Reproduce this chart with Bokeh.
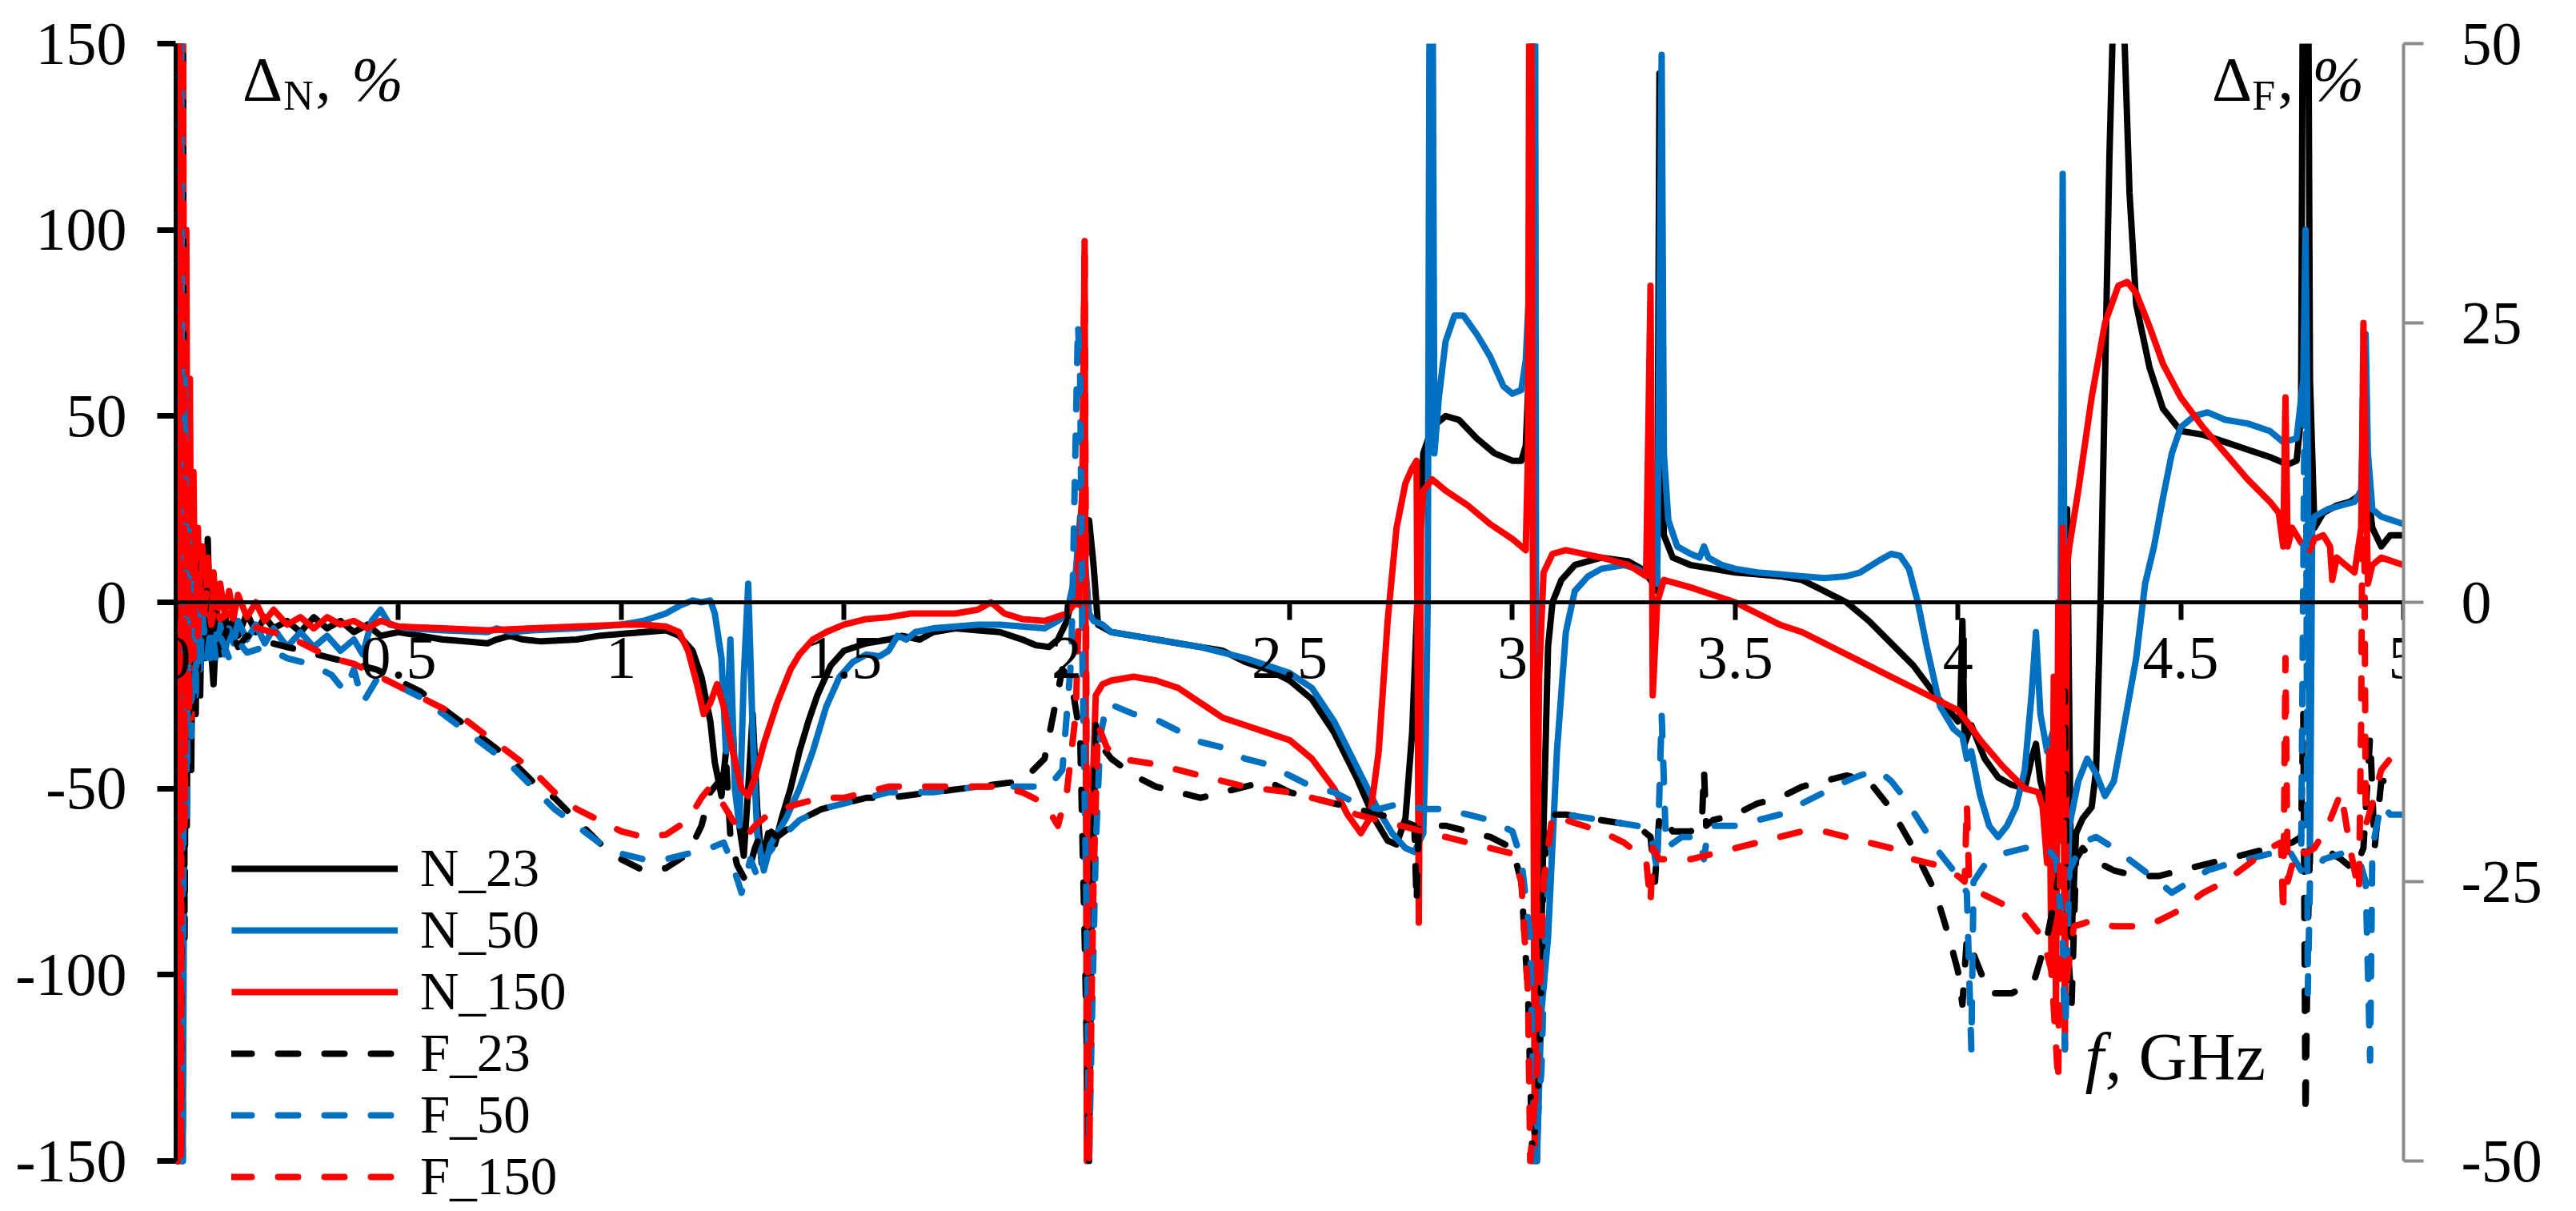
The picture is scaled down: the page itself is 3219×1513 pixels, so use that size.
from bokeh.plotting import figure
from bokeh.models import (Range1d, LinearAxis, FixedTicker, NumeralTickFormatter,
                          Legend, LegendItem, Label)
from bokeh.embed import file_html
from bokeh.resources import INLINE

# ---------------- data ----------------
# N series: left axis (%), F series: right axis (%)
n23_x = [0.000, 0.005, 0.010, 0.015, 0.020, 0.025, 0.030, 0.035, 0.040, 0.045, 0.050, 0.055, 0.060, 0.066, 0.072, 0.078, 0.085, 0.092, 0.10, 0.11, 0.12, 0.13, 0.14, 0.16, 0.18, 0.20, 0.22, 0.25, 0.28, 0.31, 0.34, 0.37, 0.40, 0.43, 0.46, 0.50, 0.55, 0.60, 0.65, 0.70, 0.72, 0.75, 0.78, 0.82, 0.90, 0.95, 1.00, 1.05, 1.10, 1.13, 1.16, 1.18, 1.20, 1.21, 1.225, 1.235, 1.245, 1.255, 1.265, 1.275, 1.285, 1.295, 1.305, 1.315, 1.33, 1.345, 1.36, 1.38, 1.40, 1.42, 1.44, 1.47, 1.50, 1.55, 1.60, 1.63, 1.67, 1.70, 1.75, 1.80, 1.85, 1.90, 1.93, 1.96, 1.98, 2.00, 2.02, 2.04, 2.05, 2.06, 2.07, 2.10, 2.15, 2.20, 2.25, 2.30, 2.35, 2.40, 2.45, 2.50, 2.55, 2.60, 2.65, 2.69, 2.72, 2.74, 2.76, 2.775, 2.79, 2.80, 2.82, 2.85, 2.88, 2.92, 2.96, 3.00, 3.02, 3.03, 3.04, 3.045, 3.055, 3.07, 3.08, 3.09, 3.11, 3.14, 3.20, 3.26, 3.29, 3.31, 3.325, 3.33, 3.335, 3.34, 3.36, 3.40, 3.45, 3.50, 3.55, 3.60, 3.65, 3.70, 3.75, 3.80, 3.85, 3.90, 3.95, 3.98, 4.00, 4.005, 4.01, 4.015, 4.03, 4.06, 4.09, 4.12, 4.15, 4.165, 4.175, 4.185, 4.20, 4.215, 4.235, 4.245, 4.255, 4.265, 4.28, 4.30, 4.31, 4.32, 4.33, 4.34, 4.35, 4.37, 4.385, 4.40, 4.43, 4.46, 4.50, 4.55, 4.60, 4.65, 4.70, 4.74, 4.76, 4.77, 4.775, 4.785, 4.79, 4.80, 4.82, 4.85, 4.88, 4.905, 4.915, 4.93, 4.95, 4.97, 5.00]
n23_y = [300, -150, 250, -150, 80, -60, 40, -45, 25, -30, 12, -25, 8, -15, 17, -10, -22, -5, -14, -3, -10, -4, -9, -3, -8, -4, -7, -5, -8, -4, -7, -5, -8, -6, -9, -8, -9, -10, -10.5, -11, -10, -9, -10, -10.5, -10, -9, -8.5, -8, -7.5, -9, -13, -20, -32, -43, -52, -40, -22, -45, -60, -68, -50, -30, -55, -70, -62, -65, -58, -50, -40, -32, -25, -17, -13, -11, -10, -9, -10, -8, -7, -7.5, -8, -10, -11.5, -12, -10, -5, 5, 18, 22, 10, -6, -8, -9, -10, -11, -12, -13, -16, -18, -21, -26, -35, -47, -58, -64, -65, -58, -35, 10, 40, 47, 50, 49, 44, 40, 38, 38, 42, 70, 200, -150, -60, -12, 0, 6, 10, 12, 11, 9, 6, 3, 142, 40, 18, 12, 10, 9, 8, 7.5, 7, 6, 3, 0, -5, -11, -17, -25, -29, -32, -30, -5, -38, -33, -42, -47, -49, -50, -42, -38, -48, -55, -58, -20, 25, -90, -62, -58, -55, -45, 0, 60, 120, 165, 165, 110, 80, 63, 52, 46, 45, 43, 41, 39, 37, 38, 50, 200, 200, 60, 20, 24, 26, 27, 29, 35, 20, 15, 18, 18]

n50_x = [0.000, 0.004, 0.008, 0.012, 0.016, 0.020, 0.024, 0.028, 0.032, 0.036, 0.040, 0.045, 0.050, 0.055, 0.060, 0.066, 0.072, 0.078, 0.085, 0.092, 0.10, 0.11, 0.12, 0.13, 0.14, 0.16, 0.18, 0.20, 0.22, 0.25, 0.28, 0.31, 0.34, 0.37, 0.40, 0.42, 0.44, 0.46, 0.48, 0.52, 0.60, 0.70, 0.72, 0.75, 0.80, 0.90, 1.00, 1.05, 1.10, 1.13, 1.16, 1.18, 1.20, 1.21, 1.225, 1.235, 1.245, 1.255, 1.265, 1.275, 1.285, 1.295, 1.305, 1.32, 1.335, 1.35, 1.37, 1.40, 1.43, 1.46, 1.49, 1.52, 1.55, 1.58, 1.60, 1.62, 1.64, 1.66, 1.70, 1.75, 1.80, 1.85, 1.90, 1.95, 1.98, 2.00, 2.02, 2.03, 2.04, 2.05, 2.06, 2.08, 2.10, 2.15, 2.20, 2.25, 2.30, 2.35, 2.40, 2.45, 2.50, 2.55, 2.60, 2.65, 2.70, 2.73, 2.76, 2.78, 2.80, 2.805, 2.81, 2.815, 2.82, 2.825, 2.835, 2.85, 2.87, 2.89, 2.92, 2.95, 2.98, 3.00, 3.02, 3.03, 3.04, 3.05, 3.055, 3.065, 3.08, 3.10, 3.12, 3.14, 3.17, 3.20, 3.25, 3.28, 3.31, 3.325, 3.335, 3.34, 3.35, 3.37, 3.40, 3.42, 3.43, 3.44, 3.47, 3.50, 3.55, 3.60, 3.65, 3.70, 3.75, 3.78, 3.82, 3.85, 3.87, 3.89, 3.91, 3.93, 3.96, 3.99, 4.01, 4.02, 4.03, 4.05, 4.07, 4.09, 4.11, 4.13, 4.15, 4.165, 4.175, 4.185, 4.20, 4.22, 4.23, 4.235, 4.24, 4.245, 4.25, 4.27, 4.29, 4.31, 4.33, 4.35, 4.37, 4.40, 4.42, 4.44, 4.46, 4.48, 4.50, 4.53, 4.56, 4.60, 4.65, 4.70, 4.73, 4.76, 4.775, 4.78, 4.785, 4.79, 4.795, 4.80, 4.83, 4.86, 4.89, 4.905, 4.915, 4.92, 4.93, 4.95, 5.00]
n50_y = [-150, 250, -150, 200, -150, -40, 40, -38, 25, -30, 10, -25, 5, -18, 0, -14, -2, -15, -4, -12, -6, -14, -7, -11, -5, -10, -6, -11, -7, -12, -8, -12, -9, -13, -10, -14, -5, -2, -6, -7, -7.5, -8, -7, -8, -7.5, -7, -6, -5, -3, -1, 0.5, 0, 0.5, -3, -15, -40, -10, -50, -60, -20, 5, -35, -62, -72, -65, -62, -58, -50, -40, -28, -20, -16, -14, -14.5, -13, -9, -10, -8, -7, -6.5, -6, -6, -6.5, -7, -5, -3, 8, 23, 12, -3, -5, -6, -8, -9, -10, -11, -12, -13.5, -15, -17, -19, -23, -32, -44, -56, -62, -66, -67, -62, -40, 0, 200, 200, 40, 55, 70, 77, 77, 72, 66, 58, 56, 57, 65, 90, 250, -150, -110, -90, -40, -8, 3, 7, 9, 10, 9, 7, 5, 147, 40, 22, 15, 13, 12, 15, 12, 10, 9, 8, 7.5, 7, 6.5, 7, 8, 11, 13, 12.5, 9, 0, -12, -28, -34, -36, -42, -40, -52, -60, -63, -60, -55, -45, -25, -8, -30, -40, -32, -10, 115, -30, -80, -60, -48, -42, -46, -52, -48, -35, -15, 5, 15, 28, 40, 47, 50, 51, 49, 48, 46, 43, 44, 60, 100, 40, -70, 20, 23, 25, 26, 27, 30, 72, 40, 25, 23, 21]

n150_x = [0.000, 0.004, 0.008, 0.012, 0.016, 0.020, 0.024, 0.028, 0.032, 0.036, 0.040, 0.045, 0.050, 0.055, 0.060, 0.066, 0.072, 0.078, 0.085, 0.092, 0.10, 0.11, 0.12, 0.13, 0.14, 0.16, 0.18, 0.20, 0.22, 0.25, 0.28, 0.31, 0.34, 0.37, 0.40, 0.43, 0.46, 0.50, 0.60, 0.70, 0.80, 0.90, 1.00, 1.05, 1.10, 1.13, 1.15, 1.17, 1.185, 1.20, 1.215, 1.23, 1.25, 1.27, 1.285, 1.30, 1.32, 1.35, 1.38, 1.40, 1.43, 1.46, 1.50, 1.55, 1.60, 1.65, 1.70, 1.75, 1.80, 1.83, 1.86, 1.90, 1.95, 2.00, 2.02, 2.035, 2.04, 2.045, 2.055, 2.065, 2.08, 2.10, 2.15, 2.20, 2.25, 2.30, 2.35, 2.40, 2.45, 2.50, 2.55, 2.60, 2.63, 2.66, 2.68, 2.70, 2.72, 2.74, 2.76, 2.775, 2.785, 2.79, 2.795, 2.80, 2.82, 2.85, 2.90, 2.95, 3.00, 3.03, 3.035, 3.04, 3.05, 3.06, 3.07, 3.09, 3.12, 3.20, 3.26, 3.30, 3.31, 3.315, 3.325, 3.34, 3.40, 3.45, 3.50, 3.55, 3.60, 3.65, 3.70, 3.75, 3.80, 3.85, 3.90, 3.95, 4.00, 4.02, 4.05, 4.10, 4.15, 4.18, 4.19, 4.20, 4.205, 4.21, 4.215, 4.22, 4.225, 4.23, 4.235, 4.24, 4.245, 4.25, 4.27, 4.30, 4.33, 4.36, 4.38, 4.40, 4.43, 4.46, 4.50, 4.55, 4.60, 4.65, 4.70, 4.72, 4.73, 4.735, 4.74, 4.75, 4.77, 4.79, 4.80, 4.82, 4.835, 4.84, 4.85, 4.87, 4.89, 4.905, 4.91, 4.92, 4.93, 4.95, 5.00]
n150_y = [300, -150, 300, -150, 200, -60, 100, -40, 60, -31, 35, -20, 20, -10, 15, -5, 12, -3, 8, -4, 5, -3, 3, -4, 2, -4, 0, -5, -2, -6, -4, -7, -4, -6, -5, -7, -5, -6.5, -7, -7.5, -7, -6.5, -6, -6, -6.5, -8, -13, -22, -30, -27, -22, -28, -40, -50, -52, -47, -38, -27, -18, -14, -10, -8, -6, -4.5, -4, -3, -3, -3, -2, 0, -3, -4.5, -5, -3, 0, 30, 97, -150, -60, -25, -22, -21, -20, -21, -23, -27, -31, -33, -35, -37, -42, -50, -57, -62, -58, -40, -5, 20, 32, 36, 38, -86, 20, 30, 33, 30, 26, 21, 17, 14, 40, 250, -150, -20, 8, 13, 14, 12, 10, 7, 85, -25, 0, 6, 4, 2, 0, -3, -6, -8, -11, -14, -17, -20, -23, -26, -29, -32, -37, -44, -50, -51, -55, -70, -40, -100, -20, -110, 0, -60, 20, -120, 10, 15, 30, 55, 75, 85, 86, 83, 74, 64, 55, 47, 40, 33, 27, 24, 15, 55, 15, 20, 16, 14, 17, 18, 15, 6, 12, 10, 8, 20, 73, 5, 10, 12, 10]

f23_x = [0.000, 0.004, 0.008, 0.012, 0.016, 0.020, 0.025, 0.030, 0.035, 0.040, 0.045, 0.050, 0.055, 0.060, 0.07, 0.08, 0.09, 0.10, 0.12, 0.14, 0.16, 0.20, 0.25, 0.30, 0.35, 0.40, 0.45, 0.50, 0.55, 0.60, 0.65, 0.70, 0.75, 0.80, 0.85, 0.90, 0.95, 1.00, 1.05, 1.10, 1.15, 1.18, 1.20, 1.22, 1.235, 1.245, 1.26, 1.28, 1.30, 1.32, 1.35, 1.40, 1.45, 1.50, 1.55, 1.60, 1.70, 1.80, 1.90, 1.95, 1.97, 1.99, 2.01, 2.03, 2.04, 2.05, 2.055, 2.065, 2.08, 2.10, 2.15, 2.20, 2.25, 2.30, 2.35, 2.40, 2.45, 2.50, 2.55, 2.60, 2.65, 2.70, 2.75, 2.78, 2.785, 2.79, 2.85, 2.90, 2.95, 3.00, 3.02, 3.035, 3.045, 3.06, 3.07, 3.08, 3.12, 3.20, 3.28, 3.31, 3.32, 3.33, 3.36, 3.40, 3.425, 3.43, 3.435, 3.45, 3.50, 3.55, 3.60, 3.65, 3.70, 3.75, 3.80, 3.85, 3.90, 3.95, 3.98, 4.00, 4.01, 4.02, 4.04, 4.07, 4.12, 4.17, 4.20, 4.22, 4.235, 4.24, 4.245, 4.255, 4.265, 4.28, 4.30, 4.35, 4.40, 4.45, 4.50, 4.55, 4.60, 4.65, 4.70, 4.75, 4.77, 4.775, 4.78, 4.785, 4.79, 4.82, 4.86, 4.89, 4.91, 4.925, 4.935, 4.95, 4.97, 5.00]
f23_y = [80, -50, 80, -50, 60, -30, 10, -15, 6, -10, 4, -6, 2, -5, 1, -4, -1, -4, -2, -4, -3, -3.5, -4, -4.5, -5, -5.5, -6, -7, -8, -9.5, -11, -12.5, -14, -16, -17.5, -19.5, -21.5, -23, -24, -23.8, -22.5, -20, -17, -16, -14, -21, -23.5, -25, -22, -20, -21, -19.5, -18.5, -18, -17.5, -17.5, -17, -16.5, -16, -14, -10, -6, -7, -12, -30, -50, -30, -11, -13, -14, -15.5, -16.5, -17, -17.5, -17, -16.5, -16, -17, -17.5, -18, -18.5, -19, -19.5, -20, -27, -20, -20, -20.5, -21, -22, -25, -35, -50, -42, -25, -19, -19, -19.5, -20, -21, -25, -19, -20.5, -20.5, -20, -15, -20, -19.5, -19, -18, -17.5, -16.5, -16, -15.5, -16, -18.5, -22, -26, -30, -33, -36, -30, -32, -35, -35, -34, -30, -26, -22, -8, -30, -36, -23, -22, -23, -24, -24.5, -24.5, -24, -23.5, -23, -22.5, -22, -21.5, -21, -10, -46, -30, -22, -22, -23, -24, -22, -12, -22, -16, -16, -17]

f50_x = [0.000, 0.004, 0.008, 0.012, 0.016, 0.020, 0.025, 0.030, 0.035, 0.040, 0.045, 0.050, 0.055, 0.060, 0.07, 0.08, 0.09, 0.10, 0.12, 0.14, 0.16, 0.20, 0.25, 0.30, 0.35, 0.38, 0.40, 0.42, 0.45, 0.50, 0.55, 0.60, 0.65, 0.70, 0.75, 0.80, 0.85, 0.90, 0.95, 1.00, 1.05, 1.10, 1.15, 1.20, 1.23, 1.25, 1.27, 1.29, 1.31, 1.33, 1.36, 1.40, 1.45, 1.50, 1.55, 1.60, 1.65, 1.70, 1.80, 1.90, 1.96, 1.99, 2.01, 2.02, 2.025, 2.03, 2.035, 2.045, 2.05, 2.055, 2.065, 2.075, 2.09, 2.12, 2.15, 2.20, 2.25, 2.30, 2.35, 2.40, 2.45, 2.50, 2.55, 2.60, 2.65, 2.70, 2.75, 2.80, 2.85, 2.90, 2.95, 3.00, 3.02, 3.04, 3.05, 3.065, 3.075, 3.09, 3.12, 3.20, 3.28, 3.31, 3.325, 3.335, 3.345, 3.38, 3.42, 3.43, 3.44, 3.50, 3.55, 3.60, 3.65, 3.70, 3.75, 3.78, 3.82, 3.85, 3.88, 3.92, 3.96, 4.00, 4.02, 4.03, 4.035, 4.06, 4.10, 4.15, 4.20, 4.22, 4.235, 4.24, 4.25, 4.28, 4.31, 4.35, 4.40, 4.45, 4.48, 4.52, 4.56, 4.60, 4.65, 4.70, 4.74, 4.77, 4.78, 4.785, 4.79, 4.82, 4.86, 4.90, 4.915, 4.925, 4.93, 4.95, 4.97, 5.00]
f50_y = [-50, 80, -50, 80, -50, 20, -20, 8, -12, 3, -8, 0, -6, -1, -5, -2, -5, -3, -5, -3.5, -4.5, -4, -5, -5.5, -6.5, -8, -6, -9, -7, -7.5, -8.5, -10, -11.5, -13, -14.5, -16.5, -18.5, -20, -21.5, -22.5, -23, -23, -22.5, -22, -21.5, -23.5, -26, -23, -25, -22.5, -21, -19.5, -18.5, -18, -17.5, -17, -17, -17, -16.5, -16.5, -16.5, -15, -5, 15, 25, 20, -5, -30, -50, -40, -22, -12, -9, -9.5, -10, -10.5, -11.5, -12.5, -13, -14, -14.5, -15.5, -16.5, -17, -18, -18.5, -18, -18.5, -18.5, -19, -19.5, -20.5, -23, -30, -50, -42, -28, -20, -19, -19.5, -20, -20.5, -24, -10, -22, -21, -21, -23, -20, -20, -19.5, -19, -18, -17, -16, -15.5, -15, -16, -17.5, -20, -22.5, -24.5, -26, -40, -25, -23.5, -22.5, -22, -22, -23, -30, -40, -24, -21.5, -21, -22, -23.5, -25, -26, -25, -24, -23.5, -23, -22.5, -22, -24, 30, -35, -25, -23, -22.5, -23, -25, -41, -22, -18, -19, -19]

f150_x = [0.000, 0.004, 0.008, 0.012, 0.016, 0.020, 0.025, 0.030, 0.035, 0.040, 0.045, 0.050, 0.055, 0.060, 0.07, 0.08, 0.09, 0.10, 0.12, 0.14, 0.16, 0.20, 0.25, 0.30, 0.35, 0.40, 0.45, 0.50, 0.55, 0.60, 0.65, 0.70, 0.75, 0.80, 0.85, 0.90, 0.95, 1.00, 1.05, 1.10, 1.15, 1.18, 1.20, 1.22, 1.25, 1.28, 1.30, 1.33, 1.36, 1.40, 1.45, 1.50, 1.55, 1.60, 1.65, 1.70, 1.75, 1.80, 1.85, 1.90, 1.95, 1.98, 2.00, 2.02, 2.035, 2.04, 2.045, 2.05, 2.06, 2.07, 2.09, 2.12, 2.20, 2.30, 2.40, 2.50, 2.55, 2.60, 2.65, 2.70, 2.75, 2.80, 2.85, 2.90, 2.95, 3.00, 3.02, 3.035, 3.04, 3.055, 3.07, 3.09, 3.12, 3.20, 3.25, 3.30, 3.31, 3.315, 3.33, 3.40, 3.45, 3.50, 3.55, 3.60, 3.65, 3.70, 3.75, 3.80, 3.85, 3.90, 3.95, 4.00, 4.015, 4.02, 4.025, 4.05, 4.10, 4.15, 4.19, 4.21, 4.225, 4.23, 4.235, 4.24, 4.26, 4.30, 4.35, 4.40, 4.45, 4.50, 4.55, 4.60, 4.65, 4.70, 4.725, 4.73, 4.735, 4.74, 4.76, 4.78, 4.80, 4.83, 4.86, 4.88, 4.90, 4.905, 4.91, 4.915, 4.93, 4.95, 4.97, 5.00]
f150_y = [80, -50, 80, -50, 70, -20, 15, -10, 10, -5, 6, -3, 3, -2, 1, -2, 0, -1.5, -1, -2, -2, -2.5, -3, -4, -5, -5.5, -6.5, -7.5, -8.5, -9.5, -10.5, -12, -13.5, -15, -17, -18.5, -19.5, -20.5, -21, -20.8, -19.5, -17.5, -16.5, -17.5, -19.5, -21, -20, -19, -18.5, -18, -17.5, -17.5, -17, -16.5, -16.5, -16.5, -16.5, -16.5, -16.5, -17, -18, -20, -17, -10, 10, 32, -20, -50, -25, -11, -13, -14, -14.5, -15.5, -16.5, -17, -17.5, -18, -19, -19.5, -20, -20.5, -21, -21.5, -22, -22.5, -25, -35, -50, -42, -25, -19, -19.5, -20.5, -21.5, -23, -27, -22, -23, -23, -22.5, -22, -21.5, -21, -20.5, -20.5, -21, -21.5, -22, -23, -23.5, -24.5, -25, -18, -25, -26, -27, -28, -30, -33, -43, -20, -8, -35, -29, -28.5, -29, -29, -28.5, -27.5, -26, -25, -23.5, -22, -21.5, -28, -5, -25, -22, -22.5, -22, -20, -17, -22, -26, -10, 25, -20, -18, -15, -14, -14]

x_ticks = [0, 0.5, 1, 1.5, 2, 2.5, 3, 3.5, 4, 4.5, 5]
left_ticks = [-150, -100, -50, 0, 50, 100, 150]
right_ticks = [-50, -25, 0, 25, 50]

series_labels = ["N_23", "N_50", "N_150", "F_23", "F_50", "F_150"]

# ---------------- figure ----------------
FONT = "Liberation Serif"
W, H = 3203, 1505
TOP = 54
PX_PER_UNIT = 1396 / 300.0          # plot scale of the left axis
FRAME_H = H - TOP
LEFT_MIN = 150 - FRAME_H / PX_PER_UNIT      # frame extends a bit below -150 (room for legend)
RIGHT_MIN = LEFT_MIN / 3.0

p = figure(width=W, height=H, output_backend="svg", toolbar_location=None,
           x_range=Range1d(0, 5), y_range=Range1d(LEFT_MIN, 150),
           min_border_left=219, min_border_right=200,
           min_border_top=TOP, min_border_bottom=0)
p.extra_y_ranges = {"right": Range1d(RIGHT_MIN, 50)}
p.outline_line_color = None
p.xgrid.visible = False
p.ygrid.visible = False
p.background_fill_color = "white"

BLACK = "#000000"
BLUE = "#0070C0"
RED = "#FF0000"
SW = 8
DW = 8
DASH = "25 33"

r1 = p.line(n23_x, n23_y, line_color=BLACK, line_width=SW, line_join="round")
r2 = p.line(n50_x, n50_y, line_color=BLUE, line_width=SW, line_join="round")
r3 = p.line(n150_x, n150_y, line_color=RED, line_width=SW, line_join="round")
r4 = p.line(f23_x, f23_y, y_range_name="right", line_color=BLACK, line_width=DW,
            line_dash=DASH, line_cap="round", line_join="round")
r5 = p.line(f50_x, f50_y, y_range_name="right", line_color=BLUE, line_width=DW,
            line_dash=DASH, line_cap="round", line_join="round")
r6 = p.line(f150_x, f150_y, y_range_name="right", line_color=RED, line_width=DW,
            line_dash=DASH, line_cap="round", line_join="round")

# x axis crossing at zero
xa = p.xaxis[0]
xa.fixed_location = 0
xa.ticker = FixedTicker(ticks=x_ticks)
xa.formatter = NumeralTickFormatter(format="0.[0]")
xa.axis_line_width = 5
xa.axis_line_color = BLACK
xa.major_tick_line_width = 6
xa.major_tick_in = 0
xa.major_tick_out = 22
xa.minor_tick_line_color = None
xa.major_label_standoff = 22
xa.major_label_text_font = FONT
xa.major_label_text_font_size = "76px"
xa.major_label_text_color = BLACK

ya = p.yaxis[0]
ya.ticker = FixedTicker(ticks=left_ticks)
ya.formatter = NumeralTickFormatter(format="0")
ya.bounds = (-150, 150)
ya.axis_line_width = 5
ya.axis_line_color = BLACK
ya.major_tick_line_width = 7
ya.major_tick_in = 0
ya.major_tick_out = 23
ya.minor_tick_line_color = None
ya.major_label_standoff = 38
ya.major_label_text_font = FONT
ya.major_label_text_font_size = "76px"
ya.major_label_text_color = BLACK

ra = LinearAxis(y_range_name="right", ticker=FixedTicker(ticks=right_ticks),
                formatter=NumeralTickFormatter(format="0"), bounds=(-50, 50))
ra.axis_line_width = 4
ra.axis_line_color = "#8C8C8C"
ra.major_tick_line_color = "#8C8C8C"
ra.major_tick_line_width = 4
ra.major_tick_in = 0
ra.major_tick_out = 25
ra.minor_tick_line_color = None
ra.major_label_standoff = 47
ra.major_label_text_font = FONT
ra.major_label_text_font_size = "76px"
ra.major_label_text_color = BLACK
p.add_layout(ra, "right")

# axis titles drawn as text in data coordinates
def lab(x, y, t, size="78px", style="normal"):
    p.add_layout(Label(x=x, y=y, text=t, text_font=FONT, text_font_size=size,
                       text_font_style=style, text_color=BLACK,
                       text_baseline="alphabetic"))

lab(0.150, 140.5, "\u0394")
lab(0.242, 136.0, "N", size="52px")
lab(0.314, 140.5, ",")
lab(0.394, 140.5, "%", style="italic")

lab(4.570, 140.5, "\u0394")
lab(4.660, 136.0, "F", size="52px")
lab(4.718, 140.5, ",")
lab(4.795, 140.5, "%", style="italic")

lab(4.285, -122.0, "f", size="84px", style="italic")
lab(4.330, -122.0, ", GHz", size="84px")

legend = Legend(items=[LegendItem(label=series_labels[i], renderers=[r])
                       for i, r in enumerate([r1, r2, r3, r4, r5, r6])],
                location=(70, -3), glyph_width=208, glyph_height=76,
                label_height=76, label_standoff=28, padding=0, margin=0,
                spacing=0, border_line_color=None, background_fill_alpha=0,
                label_text_font=FONT, label_text_font_size="67px",
                label_text_color=BLACK)
p.add_layout(legend)

open("out.html", "w").write(file_html(p, INLINE))
